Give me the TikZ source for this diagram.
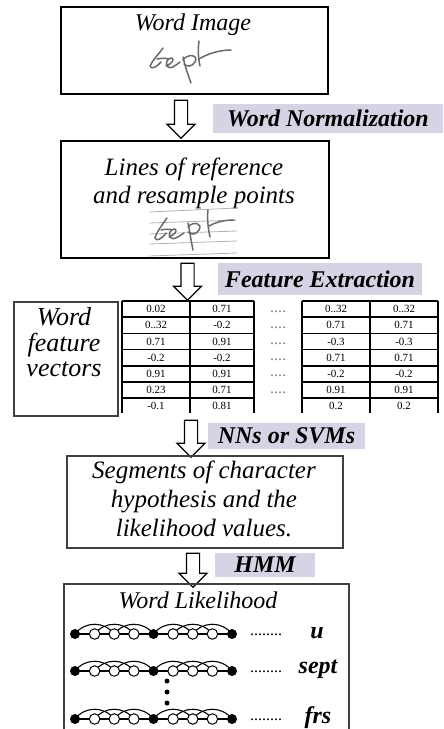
\documentclass[tikz,border=0pt]{standalone}
\usepackage{fontspec}
\setmainfont{Liberation Serif}
\usetikzlibrary{shapes.arrows}
\definecolor{lblbg}{RGB}{212,212,228}
\definecolor{handgray}{RGB}{105,105,105}
\definecolor{dkgray}{RGB}{64,64,64}
\newcommand{\myfs}[1]{\fontsize{#1}{#1}\selectfont}
\begin{document}
\begin{tikzpicture}[x=1pt,y=-1pt,
  box/.style={draw=black, line width=1.6pt, inner sep=0pt, anchor=north west},
  harrow/.style={single arrow, draw=black, line width=1.2pt, fill=white, inner sep=6pt,
    single arrow head extend=7.5pt, single arrow tip angle=90, rotate=-90, minimum width=27pt},
  lbl/.style={fill=lblbg, inner sep=0pt, font=\myfs{24}\bfseries\itshape},
  txt/.style={font=\myfs{24}\itshape, anchor=base, inner sep=0pt},
  bigtxt/.style={font=\myfs{25}\itshape, anchor=base, inner sep=0pt},
  word/.style={font=\myfs{24}\bfseries\itshape, anchor=base, inner sep=0pt},
  cell/.style={font=\myfs{11}, inner sep=0pt},
  tline/.style={line width=1.6pt},
  hand/.style={draw=handgray, line width=1.5pt, line cap=round, line join=round},
  refline/.style={draw=gray!60, line width=0.8pt},
  chainline/.style={line width=1.1pt},
  bdot/.style={circle, fill=black, inner sep=0pt, minimum size=10pt},
  hdot/.style={circle, draw=black, fill=white, line width=1pt, inner sep=0pt, minimum size=10.5pt},
  vdot/.style={circle, fill=black, inner sep=0pt, minimum size=5pt}]
\useasboundingbox (0,0) rectangle (444,729);
\clip (0,0) rectangle (444,729);

% ---------- Box 1 : Word Image ----------
\node[box, minimum width=267pt, minimum height=87pt] (b1) at (60,6) {};
\node[txt] (b1t) at (193,30) {Word Image};
\draw[hand] (163,48) .. controls (158,55) and (152,61) .. (150,66) .. controls (151,70) and (157,67) .. (161,62);
\draw[hand] (157,59) .. controls (161,58) and (165,58) .. (169,59);
\draw[hand] (166,66) .. controls (171,64) and (175,60) .. (172,58) .. controls (168,57) and (164,64) .. (168,67) .. controls (171,69) and (175,66) .. (180,62);
\draw[hand] (183,57) .. controls (185,66) and (188,75) .. (191,83);
\draw[hand] (183,60) .. controls (188,53) and (199,55) .. (195,62) .. controls (192,67) and (187,67) .. (184,64);
\draw[hand] (199,41) .. controls (198,49) and (198,57) .. (200,66);
\draw[hand] (199,59) .. controls (207,54) and (219,50) .. (231,50);

% ---------- Arrow 1 + label ----------
\node[harrow, minimum height=38pt] (a1) at (181,116) {};
\node[lbl, minimum width=230pt, minimum height=29pt] (l1) at (328,118.5) {Word Normalization};

% ---------- Box 2 : Lines of reference ----------
\node[box, minimum width=268pt, minimum height=117pt] (b2) at (60,140) {};
\node[bigtxt] (b2t1) at (194,175) {Lines of reference};
\node[bigtxt] (b2t2) at (194,203) {and resample points};
\draw[refline] (149,212) -- (237,208);
\draw[refline] (149,223) -- (237,220);
\draw[refline] (149,234) -- (237,231);
\draw[refline] (149,244) -- (237,241);
\draw[refline] (149,256) -- (237,253);
\draw[hand] (167,218) .. controls (162,225) and (156,233) .. (155,238) .. controls (156,242) and (162,239) .. (166,233);
\draw[hand] (161,230) .. controls (165,229) and (169,229) .. (173,230);
\draw[hand] (169,237) .. controls (174,235) and (178,231) .. (175,229) .. controls (171,228) and (167,235) .. (171,238) .. controls (174,240) and (178,237) .. (184,233);
\draw[hand] (188,223) .. controls (190,232) and (191,241) .. (193,250);
\draw[hand] (188,227) .. controls (193,221) and (203,223) .. (199,230) .. controls (196,235) and (191,235) .. (188,232);
\draw[hand] (208,210) .. controls (207,218) and (208,228) .. (210,237);
\draw[hand] (209,226) .. controls (216,222) and (225,220) .. (234,220);

% ---------- Arrow 2 + label ----------
\node[harrow, minimum height=37pt] (a2) at (187.5,278.5) {};
\node[lbl, minimum width=204pt, minimum height=32pt] (l2) at (320,279) {Feature Extraction};

% ---------- Word feature vectors ----------
\node[box, draw=dkgray, line width=2.2pt, minimum width=104pt, minimum height=114pt] (wfv) at (13,301) {};
\node[font=\myfs{26}\itshape, anchor=base, inner sep=0pt] (wfv1) at (64,325) {Word};
\node[font=\myfs{26}\itshape, anchor=base, inner sep=0pt] (wfv2) at (64,351) {feature};
\node[font=\myfs{26}\itshape, anchor=base, inner sep=0pt] (wfv3) at (64,376) {vectors};

% table grid
\foreach \xx in {122,190,254,302,370,438} \draw[tline] (\xx,301) -- (\xx,413);
\foreach \k in {0,...,6} {
  \draw[tline] (122,{301+16.2*\k}) -- (254,{301+16.2*\k});
  \draw[tline] (302,{301+16.2*\k}) -- (438,{301+16.2*\k});
}
\foreach \a/\b/\c/\d [count=\i] in {0.02/0.71/0..32/0..32, 0..32/-0.2/0.71/0.71, 0.71/0.91/-0.3/-0.3, -0.2/-0.2/0.71/0.71, 0.91/0.91/-0.2/-0.2, 0.23/0.71/0.91/0.91, -0.1/0.81/0.2/0.2} {
  \node[cell] (c\i-1) at (156,{301+16.2*(\i-0.5)}) {\a};
  \node[cell] (c\i-2) at (222,{301+16.2*(\i-0.5)}) {\b};
  \node[cell] (c\i-3) at (336,{301+16.2*(\i-0.5)}) {\c};
  \node[cell] (c\i-4) at (404,{301+16.2*(\i-0.5)}) {\d};
}
\foreach \i in {1,...,6} \node[font=\myfs{16}, text=gray, anchor=base, inner sep=0pt] (td\i) at (278,{301+16.2*(\i-0.5)+3}) {....};

% ---------- Arrow 3 + label ----------
\node[harrow, minimum height=37pt] (a3) at (191,435.5) {};
\node[lbl, minimum width=157pt, minimum height=26pt] (l3) at (286.5,436) {NNs or SVMs};

% ---------- Box 4 ----------
\node[box, draw=dkgray, minimum width=276pt, minimum height=92pt] (b4) at (66,455) {};
\node[bigtxt] (b4t1) at (204,478) {Segments of character};
\node[bigtxt] (b4t2) at (204,507) {hypothesis and the};
\node[bigtxt] (b4t3) at (204,536) {likelihood values.};

% ---------- Arrow 4 + label ----------
\node[harrow, minimum height=34pt] (a4) at (193,567) {};
\node[lbl, minimum width=100pt, minimum height=24pt] (l4) at (265,565) {HMM};

% ---------- Box 5 : Word Likelihood ----------
\node[box, draw=dkgray, minimum width=285pt, minimum height=165pt] (b5) at (63,583) {};
\node[txt] (b5t) at (198,608) {Word Likelihood};

\foreach \r/\yy in {1/634, 2/671, 3/719} {
  \foreach \k in {0,...,8} \coordinate (n\r-\k) at ({75+19.625*\k},\yy);
  \draw[chainline] (n\r-0) -- (n\r-8);
  \foreach \k in {0,1,2,4,5,6} {
    \pgfmathtruncatemacro\kk{\k+2}
    \draw[chainline] (n\r-\k) .. controls +(10,-13) and +(-10,-13) .. (n\r-\kk);
  }
  \foreach \k in {0,4,8} \node[bdot] (s\r-\k) at (n\r-\k) {};
  \foreach \k in {1,2,3,5,6,7} \node[hdot] (s\r-\k) at (n\r-\k) {};
  \node[font=\myfs{16}, anchor=base, inner sep=0pt] (ld\r) at (266,\yy+1) {........};
}
\node[word] (w1) at (317,638) {u};
\node[word] (w2) at (318,673) {sept};
\node[word] (w3) at (318,723) {frs};
\node[vdot] (v1) at (167,681) {};
\node[vdot] (v2) at (167,692) {};
\node[vdot] (v3) at (167,703) {};
\end{tikzpicture}
\end{document}
